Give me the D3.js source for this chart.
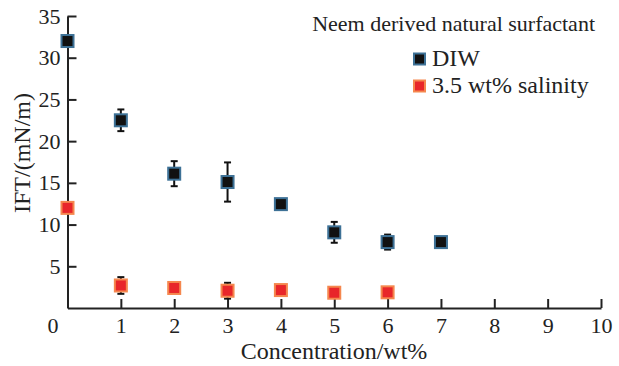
<!DOCTYPE html>
<html><head><meta charset="utf-8">
<script src="https://cdn.jsdelivr.net/npm/d3@7"></script>
<style>body{margin:0;background:#fff}svg{display:block}text{font-family:"Liberation Serif","Times New Roman",serif;fill:#222}</style>
</head><body><svg id="c" width="619" height="366"></svg>
<script>
const concentration = [0, 1, 2, 3, 4, 5, 6, 7];
const diwIFT   = [32.0, 22.5, 16.1, 15.1, 12.45, 9.07, 7.9, 7.9];
const diwErr   = [0, 1.3, 1.5, 2.35, 0.6, 1.25, 0.9, 0];
const salConc  = [0, 1, 2, 3, 4, 5, 6];
const salIFT   = [12.0, 2.7, 2.4, 2.07, 2.15, 1.83, 1.88];
const salErr   = [0, 1.0, 0, 0.95, 0.6, 0.5, 0];
const xTicks = [1,2,3,4,5,6,7,8,9,10];
const yTicks = [5,10,15,20,25,30,35];
const legendTitle = "Neem derived natural surfactant";
const seriesNames = ["DIW", "3.5 wt% salinity"];

const svg = d3.select("#c");
const x = d3.scaleLinear().domain([0,10]).range([67.5,601]);
const y = d3.scaleLinear().domain([0,35]).range([308,16]);
const axisCol = "#222";

// axes
const gx = svg.append("g").attr("transform","translate(0,308)")
  .call(d3.axisBottom(x).tickValues(xTicks).tickSizeInner(-9).tickSizeOuter(0).tickPadding(9));
const gy = svg.append("g").attr("transform","translate(67.5,0)")
  .call(d3.axisLeft(y).tickValues(yTicks).tickSizeInner(-9).tickSizeOuter(0).tickPadding(6));
[gx,gy].forEach(g=>{
  g.select(".domain").attr("stroke",axisCol).attr("stroke-width",2);
  g.selectAll(".tick line").attr("stroke",axisCol).attr("stroke-width",2);
  g.selectAll(".tick text").attr("fill",axisCol).style("font-family",'"Liberation Serif",serif').style("font-size","22px");
});
gx.selectAll(".tick text").attr("dy","0.71em");
gy.selectAll(".tick text").attr("x",-7);
svg.append("text").attr("x",53).attr("y",333).attr("text-anchor","middle").style("font-size","22px").text("0");

// titles
svg.append("text").attr("x",334).attr("y",359).attr("text-anchor","middle").style("font-size","24px").text("Concentration/wt%");
svg.append("text").attr("transform","translate(30,153) rotate(-90)").attr("text-anchor","middle").style("font-size","24px").text("IFT/(mN/m)");

// error bars
function errBars(cx, cy, ce){
  const g = svg.append("g").attr("stroke","#111").attr("stroke-width",2);
  cx.forEach((c,i)=>{
    if(!ce[i]) return;
    const px = x(c), t = y(cy[i]+ce[i]), b = y(cy[i]-ce[i]);
    g.append("line").attr("x1",px).attr("x2",px).attr("y1",t).attr("y2",b);
    g.append("line").attr("x1",px-3.5).attr("x2",px+3.5).attr("y1",t).attr("y2",t);
    g.append("line").attr("x1",px-3.5).attr("x2",px+3.5).attr("y1",b).attr("y2",b);
  });
}
function squares(cx, cy, fill, stroke){
  svg.append("g").selectAll("rect").data(cx).join("rect")
    .attr("x",(d)=>x(d)-6).attr("y",(d,i)=>y(cy[i])-6).attr("width",12).attr("height",12)
    .attr("fill",fill).attr("stroke",stroke).attr("stroke-width",2);
}
errBars(concentration, diwIFT, diwErr);
errBars(salConc, salIFT, salErr);
squares(concentration, diwIFT, "#111", "#3d7196");
squares(salConc, salIFT, "#e8262a", "#f5874e");

// legend
svg.append("text").attr("x",595).attr("y",31).attr("text-anchor","end").style("font-size","22px").text(legendTitle);
const leg = [["#111","#3d7196"],["#e8262a","#f5874e"]];
seriesNames.forEach((n,i)=>{
  const cy = 59 + i*27;
  svg.append("rect").attr("x",414).attr("y",cy-5.5).attr("width",11).attr("height",11)
    .attr("fill",leg[i][0]).attr("stroke",leg[i][1]).attr("stroke-width",2);
  svg.append("text").attr("x",432).attr("y",cy+6.5).style("font-size","24px").text(n);
});
</script></body></html>
